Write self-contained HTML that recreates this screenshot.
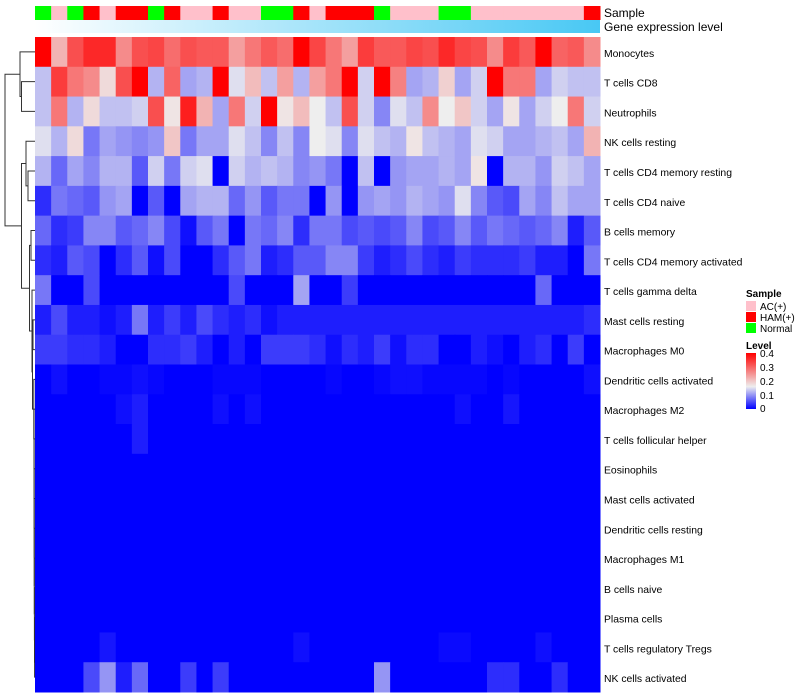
<!DOCTYPE html>
<html><head><meta charset="utf-8"><style>
body{margin:0;background:#fff;}
svg{display:block;font-family:"Liberation Sans",sans-serif;}
</style></head><body>
<svg id="chart" width="800" height="700" viewBox="0 0 800 700" xmlns="http://www.w3.org/2000/svg">
<g id="dendro"></g>
<g id="annot"></g>
<g id="cells"></g>
<g id="labels"></g>
<text x="604" y="17" font-size="12">Sample</text>
<text x="604" y="31" font-size="12">Gene expression level</text>
<g>
<text x="746" y="297" font-size="10" font-weight="bold">Sample</text>
<rect x="746" y="301" width="10" height="10" fill="#FFC0CB"/>
<text x="760" y="310" font-size="10">AC(+)</text>
<rect x="746" y="312" width="10" height="10" fill="#FF0000"/>
<text x="760" y="321" font-size="10">HAM(+)</text>
<rect x="746" y="323" width="10" height="10" fill="#00FF00"/>
<text x="760" y="332" font-size="10">Normal</text>
<text x="746" y="349" font-size="10" font-weight="bold">Level</text>
<defs><linearGradient id="lg" x1="0" y1="1" x2="0" y2="0">
<stop offset="0" stop-color="#0000FF"/><stop offset="0.4" stop-color="#EEEEEE"/><stop offset="1" stop-color="#FF0000"/></linearGradient></defs>
<rect x="746" y="353" width="10" height="56" fill="url(#lg)"/>
<text x="760" y="357" font-size="10">0.4</text>
<text x="760" y="371" font-size="10">0.3</text>
<text x="760" y="385" font-size="10">0.2</text>
<text x="760" y="399" font-size="10">0.1</text>
<text x="760" y="412" font-size="10">0</text>
</g>
</svg>
<script>
const rowNames=["Monocytes","T cells CD8","Neutrophils","NK cells resting","T cells CD4 memory resting","T cells CD4 naive","B cells memory","T cells CD4 memory activated","T cells gamma delta","Mast cells resting","Macrophages M0","Dendritic cells activated","Macrophages M2","T cells follicular helper","Eosinophils","Mast cells activated","Dendritic cells resting","Macrophages M1","B cells naive","Plasma cells","T cells regulatory  Tregs","NK cells activated"];
const sampleGroups=["N","A","N","H","A","H","H","N","H","A","A","H","A","A","N","N","H","A","H","H","H","N","A","A","A","N","N","A","A","A","A","A","A","A","H"];
// values in hundredths (0..40)
const vMono=[40,22,32,36,36,26,32,33,29,32,31,31,24,28,31,29,40,33,28,24,34,31,31,33,32,36,33,32,26,34,31,40,30,31,26];
const vCD8=[13,34,28,26,18,32,40,12,30,11,12,40,15,21,13,24,12,24,28,40,14,40,27,11,12,19,11,14,40,28,28,11,14,13,13];
const vNeut=[13,28,12,18,13,13,14,32,17,37,22,11,28,14,40,17,21,16,13,32,14,9,15,13,26,16,20,14,11,17,11,14,16,28,14];
const vNKr=[15,12,18,8,11,10,9,10,20,8,11,11,15,13,9,13,9,16,15,9,15,13,12,17,13,12,11,15,14,11,11,12,13,11,22];
const vCD4mr=[12,7,11,9,12,12,6,14,8,14,15,0,14,12,13,12,9,10,8,0,13,0,10,11,11,12,11,17,0,12,12,10,14,13,11];
const vCD4n=[3,8,7,6,10,11,0,6,0,11,12,12,7,10,6,8,8,0,10,0,10,11,10,12,11,10,15,9,6,5,11,9,13,11,11];
const vBmem=[7,3,4,9,9,6,7,9,5,1,6,8,0,8,7,9,3,8,8,5,6,5,6,9,5,6,9,6,8,7,6,7,9,2,6];
const vCD4ma=[3,2,6,5,0,3,6,1,5,0,0,3,6,8,2,3,6,6,9,9,4,2,3,5,3,2,4,3,3,3,4,2,2,0,8];
const vGd=[8,0,0,5,0,0,0,0,0,0,0,0,5,0,0,0,11,0,0,4,0,0,0,0,0,0,0,0,0,0,0,7,0,0,0];
const vMastR=[2,5,2,2,1,2,8,2,4,2,5,3,2,3,1,2,2,2,2,2,2,2,2,2,2,2,2,2,2,2,2,2,2,2,3];
const vM0=[4,4,3,3,2,0,0,3,3,4,2,0,2,0,4,4,4,3,1,3,2,4,1,3,3,0,0,2,1,0,2,3,0,4,0];
const vDCa=[0,1,0,0,0.5,0.5,1,0.5,0,0,0,0.5,0.5,0.5,0,0,0,0,0.5,0,0,0.5,1,1,0.5,0.5,0.5,0.5,0,0.5,0,0,0,0,1];
const vM2=[0,0,0,0,0,1,2,0,0,0,0,1,0,1,0,0,0,0,0,0,0,0,0,0,0,0,1,0,0,1.5,0,0,0,0,0];
const vTfh=[0,0,0,0,0,0,2,0,0,0,0,0,0,0,0,0,0,0,0,0,0,0,0,0,0,0,0,0,0,0,0,0,0,0,0];
const vZero=[0,0,0,0,0,0,0,0,0,0,0,0,0,0,0,0,0,0,0,0,0,0,0,0,0,0,0,0,0,0,0,0,0,0,0];
const vTreg=[0,0,0,0,1.5,0,0,0,0,0,0,0,0,0,0,0,1,0,0,0,0,0,0,0,0,0.7,0.7,0,0,0,0,1,0,0,0];
const vNKa=[0,0,0,5,10,2,7,0,0,4,0,4,0,0,0,0,0,0,0,0,0,10,0,0,0,0,0,0,3,3,0,0,3,0,0];
const values=[vMono,vCD8,vNeut,vNKr,vCD4mr,vCD4n,vBmem,vCD4ma,vGd,vMastR,vM0,vDCa,vM2,vTfh,vZero,vZero,vZero,vZero,vZero,vZero,vTreg,vNKa];
const groupColors={A:"#FFC0CB",H:"#FF0000",N:"#00FF00"};

const NS="http://www.w3.org/2000/svg";
const X0=35,X1=600,Y0=37,Y1=692;
const nC=sampleGroups.length,nR=rowNames.length;
const cw=(X1-X0)/nC,rh=(Y1-Y0)/nR;
const xPos=c=>X0+c*cw;
const yPos=r=>Y0+r*rh;
function color(v){
  v=v/100;const mid=0.16;
  if(v<=mid){const t=v/mid;const c=Math.round(238*t);return `rgb(${c},${c},${Math.round(255-17*t)})`;}
  const t=Math.min(1,(v-mid)/(0.4-mid));const c=Math.round(238*(1-t));return `rgb(${Math.round(238+17*t)},${c},${c})`;
}
function mk(tag,attrs,parent){const e=document.createElementNS(NS,tag);for(const k in attrs)e.setAttribute(k,attrs[k]);parent.appendChild(e);return e;}
const cells=document.getElementById('cells');
for(let r=0;r<nR;r++){for(let c=0;c<nC;c++){
  const e=mk('rect',{x:xPos(c),y:yPos(r),width:cw+0.5,height:rh+0.5,fill:color(values[r][c])},cells);
  
  
}}
const labels=document.getElementById('labels');
rowNames.forEach((n,r)=>{
  const t=mk('text',{x:604,y:yPos(r)+rh/2+5,'font-size':10.4},labels);t.textContent=n;
  
  
});
const annot=document.getElementById('annot');
sampleGroups.forEach((g,c)=>{
  const e=mk('rect',{x:xPos(c),y:6,width:cw+0.5,height:14,fill:groupColors[g]},annot);
  
  
});
const defs=mk('defs',{},annot);
const gr=mk('linearGradient',{id:'ge',x1:0,y1:0,x2:1,y2:0},defs);
mk('stop',{offset:0,'stop-color':'#FFFFFF'},gr);mk('stop',{offset:1,'stop-color':'#48C8F4'},gr);
const geb=mk('rect',{x:X0,y:20,width:X1-X0,height:13,fill:'url(#ge)'},annot);



const L=(a,b,x)=>[x,a,b];
let low=L(18,L(19,L(20,21,34.6),34.5),34.4);
for(let r=17;r>=12;r--) low=L(r,low,34.3-(17-r)*0.05);
const tree=L(L(0,L(1,2,21.5),20),L(L(3,L(4,5,28),26),L(L(6,7,31),L(8,L(L(9,10,33),L(11,low,33.8),32.5),32),29.5),21.5),5);
const dg=document.getElementById('dendro');
function draw(n){
  if(typeof n==='number')return {y:yPos(n)+rh/2,x:X0};
  const a=draw(n[1]),b=draw(n[2]),x=n[0];
  const p=mk('path',{d:`M${a.x},${a.y}H${x}V${b.y}H${b.x}`,fill:'none',stroke:'#333',"stroke-width":1},dg);
  
  
  return {y:(a.y+b.y)/2,x:x};
}
draw(tree);
</script>
</body></html>
